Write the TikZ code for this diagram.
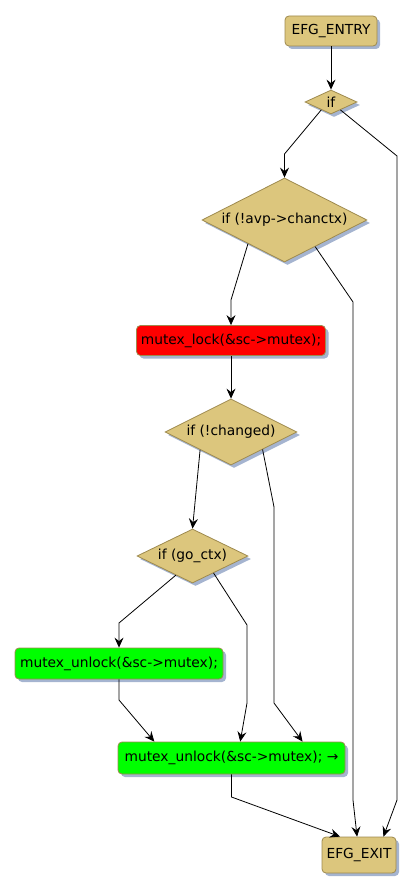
\documentclass[tikz,border=0pt]{standalone}
\usepackage{fontspec}
\setmainfont{DejaVu Sans}
\usetikzlibrary{shapes.geometric,shadows,arrows.meta}
\definecolor{tanf}{RGB}{220,198,125}
\definecolor{tanb}{RGB}{158,138,78}
\definecolor{shc}{RGB}{165,180,208}
\definecolor{redf}{RGB}{255,0,0}
\definecolor{greenf}{RGB}{0,255,0}
\tikzset{
  base/.style={draw=tanb, line width=0.8pt, inner sep=0pt,
    font=\fontsize{13.8}{16}\selectfont,
    drop shadow={shadow xshift=3pt, shadow yshift=-3pt, fill=shc, opacity=1}},
  boxn/.style={base, rectangle, rounded corners=4pt},
  dia/.style={base, diamond, aspect=2, fill=tanf},
  conn/.style={draw=black, line width=0.8pt, -{Stealth[length=10pt,width=9pt,inset=3.5pt]}},
}
\begin{document}
\begin{tikzpicture}[x=1pt,y=-1pt]
\useasboundingbox (0,0) rectangle (414,885);
\node[boxn, fill=tanf, minimum width=92pt, minimum height=30pt] (entry) at (331,31) {EFG\_ENTRY};
\node[dia, minimum width=52pt, minimum height=24pt] (if) at (331,102) {if};
\node[dia, minimum width=165pt, minimum height=84pt] (d2) at (284.5,220) {if (!avp->chanctx)};
\node[boxn, fill=redf, minimum width=189pt, minimum height=30pt] (lock) at (231,340.5) {mutex\_lock(\&sc->mutex);};
\node[dia, minimum width=132pt, minimum height=66pt] (d3) at (231,432) {if (!changed)};
\node[dia, minimum width=111pt, minimum height=54pt] (d4) at (192.5,556) {if (go\_ctx)};
\node[boxn, fill=greenf, minimum width=208pt, minimum height=31pt] (u1) at (119,663.5) {mutex\_unlock(\&sc->mutex);};
\node[boxn, fill=greenf, minimum width=227pt, minimum height=32pt] (u2) at (231.5,758) {mutex\_unlock(\&sc->mutex); →};
\node[boxn, fill=tanf, minimum width=74pt, minimum height=36pt] (exit) at (359,855) {EFG\_EXIT};

\draw[conn] (entry.south) -- (if.north);
\draw[conn] (if.219) -- (284.5,154) -- (d2.north);
\draw[conn] (if.320) -- (397,156) -- (397,800) -- (exit.37);
\draw[conn] (d2.213) -- (231,300) -- (lock.north);
\draw[conn] (d2.319) -- (353,302) -- (353,800) -- (exit.96);
\draw[conn] (lock.south) -- (d3.north);
\draw[conn] (d3.210) -- (d4.north);
\draw[conn] (d3.331) -- (274,507) -- (274,703) -- (u2.13);
\draw[conn] (d4.229) -- (119,623) -- (u1.north);
\draw[conn] (d4.321) -- (247,625) -- (247,703) -- (u2.62);
\draw[conn] (u1.south) -- (119,700) -- (u2.168);
\draw[conn] (u2.south) -- (231.5,797) -- (exit.136);
\end{tikzpicture}
\end{document}
